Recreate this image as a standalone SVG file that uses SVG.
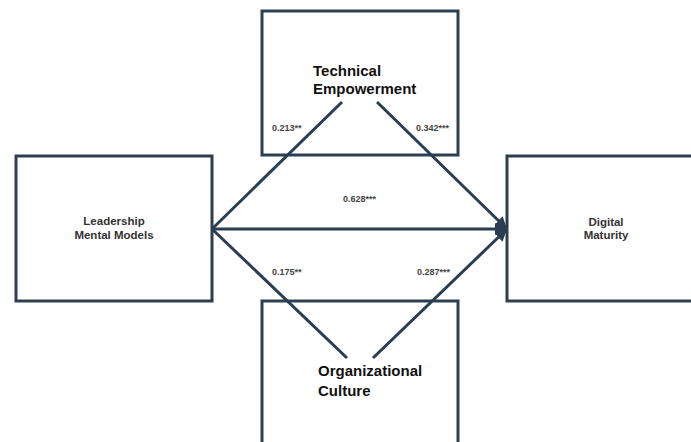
<svg xmlns="http://www.w3.org/2000/svg" width="691" height="442" viewBox="0 0 691 442">
<style>
.box{fill:#fff;stroke:#2f3e4e;stroke-width:3}
.ln{fill:none;stroke:#2b3d50;stroke-width:3}
.big{font-family:"Liberation Sans",Arial,sans-serif;font-weight:700;font-size:15px;fill:#111}
.nl{font-family:"Liberation Sans",Arial,sans-serif;font-weight:700;font-size:11.5px;fill:#333;text-anchor:middle}
.co{font-family:"Liberation Sans",Arial,sans-serif;font-weight:700;font-size:9px;fill:#444}
</style>
<defs>
<marker id="ah" viewBox="0 0 10 10" refX="10" refY="5" markerWidth="4" markerHeight="4" orient="auto" markerUnits="strokeWidth">
<path d="M0,0 L10,5 L0,10 z" fill="#2b3d50"/>
</marker>
</defs>
<rect width="691" height="442" fill="#fff"/>
<g id="technical-empowerment">
<rect class="box" x="262" y="11" width="196" height="144"/>
<text class="big" x="313" y="76">Technical</text>
<text class="big" x="313" y="94">Empowerment</text>
</g>
<g id="organizational-culture">
<rect class="box" x="262" y="301" width="196" height="150"/>
<text class="big" x="318" y="376">Organizational</text>
<text class="big" x="318" y="396">Culture</text>
</g>
<g id="leadership">
<rect class="box" x="16" y="156" width="196" height="145"/>
<text class="nl" x="114" y="225">Leadership</text>
<text class="nl" x="114" y="239">Mental Models</text>
</g>
<g id="digital-maturity">
<rect class="box" x="507" y="156" width="196" height="145"/>
<text class="nl" x="606" y="226">Digital</text>
<text class="nl" x="606" y="239">Maturity</text>
</g>
<g id="connectors">
<path class="ln" d="M212,229 L342,102"/>
<path class="ln" d="M377,102 L507,229" marker-end="url(#ah)"/>
<path class="ln" d="M212,229 L507,229" marker-end="url(#ah)"/>
<path class="ln" d="M212,229 L347,358"/>
<path class="ln" d="M373,358 L507,229" marker-end="url(#ah)"/>
</g>
<g id="labels">
<text class="co" x="272" y="131">0.213**</text>
<text class="co" x="416" y="131">0.342***</text>
<text class="co" x="343" y="202">0.628***</text>
<text class="co" x="272" y="275">0.175**</text>
<text class="co" x="417" y="275">0.287***</text>
</g>
</svg>
